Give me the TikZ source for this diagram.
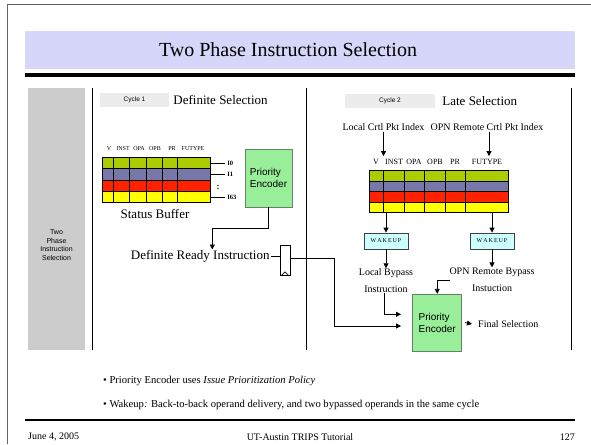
\documentclass[tikz,border=0pt]{standalone}
\usepackage{fontspec}
\setmainfont{Liberation Serif}
\setsansfont{Liberation Sans}
\usetikzlibrary{arrows.meta,positioning}

\definecolor{bandblue}{RGB}{214,214,250}
\definecolor{bargray}{RGB}{204,204,204}
\definecolor{cyclegray}{RGB}{236,236,236}
\definecolor{rowgreen}{RGB}{170,204,0}
\definecolor{rowpurple}{RGB}{119,119,170}
\definecolor{rowred}{RGB}{255,34,0}
\definecolor{rowyellow}{RGB}{255,255,0}
\definecolor{pegreen}{RGB}{153,238,153}
\definecolor{peborder}{RGB}{100,130,100}
\definecolor{wakecyan}{RGB}{204,255,255}
\definecolor{framegray}{RGB}{100,100,100}

\begin{document}
\begin{tikzpicture}[x=1pt, y=-1pt,
  arr/.style={-{Triangle[length=5pt,width=5pt]}, line width=0.8pt},
  big/.style={font=\fontsize{13}{15}\selectfont, inner sep=1pt},
  mid/.style={font=\fontsize{10}{12}\selectfont, inner sep=1pt},
  lhead/.style={font=\fontsize{6}{7}\selectfont, inner sep=0pt},
  rhead/.style={font=\fontsize{8}{9}\selectfont, inner sep=0pt},
  cell/.style={draw, line width=0.8pt, inner sep=0pt},
  idx/.style={font=\bfseries\fontsize{6.5}{7}\selectfont, inner sep=1.5pt},
  enc/.style={draw=peborder, fill=pegreen, line width=0.8pt, align=left,
              font=\sffamily\fontsize{10}{12}\selectfont, inner sep=0pt},
  wake/.style={draw=black!75, fill=wakecyan, line width=0.8pt, minimum width=44pt,
               minimum height=16pt, inner sep=0pt, font=\fontsize{6}{7}\selectfont},
  cyc/.style={fill=cyclegray, inner sep=0pt, font=\sffamily\fontsize{6.5}{7}\selectfont},
  foot/.style={font=\fontsize{10}{11}\selectfont, inner sep=0pt},
]
  \useasboundingbox (0,0) rectangle (591,444);
  \draw[framegray, line width=1.2pt] (7.5,444) -- (7.5,4.5) -- (591,4.5);

  \node[fill=bandblue, minimum width=550pt, minimum height=38pt] (band) at (300,50) {};
  \node[font=\fontsize{20}{24}\selectfont, inner sep=0pt] (title) at (288,50) {Two Phase Instruction Selection};
  \draw[line width=3.5pt] (25,75) -- (575,75);

  \node[fill=bargray, minimum width=57pt, minimum height=262pt, inner sep=0pt] (side) at (56.5,219) {};
  \node[align=center, inner sep=0pt, font=\sffamily\fontsize{7}{8.5}\selectfont] (sidelbl) at (56.5,245) {Two\\Phase\\Instruction\\Selection};
  \foreach \x in {92.5,306,571}
    \draw[line width=1pt] (\x,88) -- (\x,350);

  % cycle 1
  \node[cyc, minimum width=69pt, minimum height=14pt] (cyc1) at (134.5,100) {Cycle 1};
  \node[big, right=3pt of cyc1] (defsel) {Definite Selection};

  \foreach \t/\x in {V/109,INST/123,OPA/139,OPB/155,PR/172,FUTYPE/193}
    \node[lhead] (lh\t) at (\x,149) {\t};
  \foreach \c [count=\r] in {rowgreen,rowpurple,rowred,rowyellow}
    \node[cell, fill=\c, minimum width=107.3pt, minimum height=11.35pt] (lrow\r) at (156.35,{157.3+11.35*(\r-0.5)}) {};
  \foreach \x in {113.3,129.3,146,162,177.7}
    \draw[line width=0.8pt] (\x,157.3) -- (\x,202.7);
  \foreach \r/\n in {1/0,2/1,4/63}
    \draw[line width=0.8pt] (lrow\r.east) -- ++(15,0) node[idx, right] (ix\n) {I\n};
  \node[font=\bfseries\fontsize{9}{9}\selectfont, inner sep=0pt] (dots) at (218,187) {:};
  \node[big] (sbuf) at (155,213.5) {Status Buffer};

  \node[enc, minimum width=47pt, minimum height=58pt] (pe1) at (268.5,178) {Priority\\Encoder};
  \coordinate (bend1) at (212.3,228.3);
  \node[big, anchor=east] (dri) at (270.7,256.7) {Definite Ready Instruction};
  \draw[arr] (pe1.south) |- (bend1) -- (bend1 |- dri.north);

  \node[draw, line width=0.8pt, minimum width=10pt, minimum height=30pt, inner sep=0pt] (latch) at (285,260) {};
  \draw[line width=0.6pt] ([xshift=1.8pt]latch.south west) -- ([yshift=3.5pt]latch.south) -- ([xshift=-1.8pt]latch.south east);
  \draw[line width=0.8pt] (dri.east) -- (latch.west |- dri.east);

  % cycle 2
  \node[cyc, minimum width=90pt, minimum height=14pt] (cyc2) at (390,101) {Cycle 2};
  \node[big, right=6pt of cyc2] (latesel) {Late Selection};
  \node[mid] (lcpi) at (383.5,127) {Local Crtl Pkt Index};
  \node[mid] (orci) at (487,127) {OPN Remote Crtl Pkt Index};

  \foreach \t/\x in {V/376,INST/394,OPA/414,OPB/435,PR/455,FUTYPE/487}
    \node[rhead] (rh\t) at (\x,162) {\t};
  \foreach \c [count=\r] in {rowgreen,rowpurple,rowred,rowyellow}
    \node[cell, fill=\c, minimum width=139pt, minimum height=10.5pt] (rrow\r) at (438.5,{170.7+10.5*(\r-0.5)}) {};
  \foreach \x in {383.3,404,424.7,445.5,465}
    \draw[line width=0.8pt] (\x,170.7) -- (\x,212.7);
  \draw[arr, shorten >=3pt] (lcpi.south) -- (lcpi.south |- rhV.north);
  \draw[arr, shorten >=3pt] ([xshift=2pt]orci.south) -- ([xshift=2pt]orci.south |- rhFUTYPE.north);

  \node[wake] (wk1) at (386,241) {W\,A\,K\,E\,U\,P};
  \node[wake] (wk2) at (492,241) {W\,A\,K\,E\,U\,P};
  \draw[arr] (rrow4.south -| wk1) -- (wk1);
  \draw[arr] (rrow4.south -| wk2) -- (wk2);

  \node[align=center, inner sep=0pt, font=\fontsize{10}{17}\selectfont] (lbi) at (386,280.5) {Local Bypass\\Instruction};
  \node[align=center, inner sep=0pt, font=\fontsize{10}{17}\selectfont] (obi) at (492,279.5) {OPN Remote Bypass\\Instuction};
  \draw[arr] (wk1.south) -- (wk1.south |- lbi.north);
  \draw[arr] (wk2.south) -- (wk2.south |- obi.north);

  \node[enc, minimum width=49pt, minimum height=56.7pt] (pe2) at (437.2,322.6) {Priority\\Encoder};
  \coordinate (in1) at (401,314.3);
  \coordinate (in2) at (401,326);
  \coordinate (ob) at (450,280.7);
  \coordinate (bend2) at (334,258.5);
  \draw[arr] ([xshift=-1.5pt]lbi.south) |- (in1);
  \draw[arr] (latch.east |- bend2) -- (bend2) |- (in2);
  \draw[arr] (ob) -| (pe2.north);
  \node[mid, anchor=west] (fsel) at (477,324) {Final Selection};
  \draw[arr] ([xshift=3pt]pe2.east) -- ([xshift=-5pt]fsel.west);

  % notes and footer
  \node[font=\fontsize{10.6}{12}\selectfont, anchor=west, inner sep=0pt] (note1) at (103,381)
    {\textbullet\ Priority Encoder uses \textit{Issue Prioritization Policy}};
  \node[font=\fontsize{10.6}{12}\selectfont, anchor=west, inner sep=0pt] (note2) at (103,405)
    {\textbullet\ Wakeup\textit{:} Back-to-back operand delivery, and two bypassed operands in the same cycle};
  \draw[line width=1.5pt] (25,420) -- (575,420);
  \node[foot, anchor=west] (date) at (28,437) {June 4, 2005};
  \node[foot] (event) at (300,437) {UT-Austin TRIPS Tutorial};
  \node[foot, anchor=east] (page) at (575,437) {127};
\end{tikzpicture}
\end{document}
